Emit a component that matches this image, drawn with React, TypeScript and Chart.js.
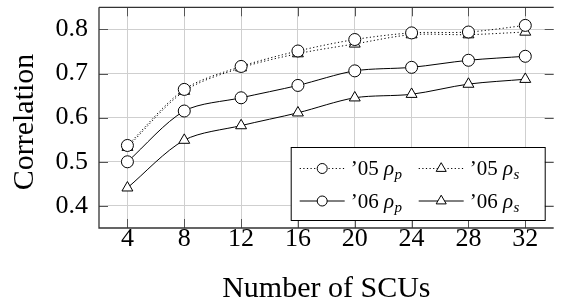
import React, { useEffect, useRef } from "react";
import { Chart, registerables } from "chart.js";

Chart.register(...registerables);

const scus = [4, 8, 12, 16, 20, 24, 28, 32];
const rhoP05 = [0.537, 0.664, 0.716, 0.751, 0.777, 0.792, 0.794, 0.809];
const rhoS05 = [0.533, 0.66, 0.713, 0.745, 0.767, 0.788, 0.788, 0.794];
const rhoP06 = [0.5, 0.615, 0.645, 0.673, 0.706, 0.714, 0.73, 0.739];
const rhoS06 = [0.441, 0.549, 0.582, 0.611, 0.645, 0.653, 0.676, 0.687];
const xTicks = [4, 8, 12, 16, 20, 24, 28, 32];
const yTicks = [0.4, 0.5, 0.6, 0.7, 0.8];
const seriesNames = ["’05", "’05", "’06", "’06"];
const seriesSubs = ["p", "s", "p", "s"];

const SERIF = "Liberation Serif";
const DOT = [1.2, 2.4];

Chart.defaults.font.family = SERIF;
Chart.defaults.font.size = 26;
Chart.defaults.color = "#000";

const pts = (ys: number[]) => scus.map((x, i) => ({ x, y: ys[i] }));

const zeroPad = (s: any) => {
  s.paddingTop = 0;
  s.paddingBottom = 0;
  s.paddingLeft = 0;
  s.paddingRight = 0;
};

const decorPlugin = {
  id: "decor",
  afterDatasetsDraw(chart: any) {
    const { ctx, chartArea } = chart;
    const { left, right, top, bottom } = chartArea;
    const xs = chart.scales.x;
    const ys = chart.scales.y;
    ctx.save();
    ctx.strokeStyle = "#555";
    ctx.lineWidth = 1;
    ctx.beginPath();
    xTicks.forEach((v) => {
      const px = Math.round(xs.getPixelForValue(v)) + 0.5;
      ctx.moveTo(px, top);
      ctx.lineTo(px, top + 9);
      ctx.moveTo(px, bottom);
      ctx.lineTo(px, bottom - 9);
    });
    yTicks.forEach((v) => {
      const py = Math.round(ys.getPixelForValue(v)) + 0.5;
      ctx.moveTo(left, py);
      ctx.lineTo(left + 9, py);
      ctx.moveTo(right, py);
      ctx.lineTo(right - 9, py);
    });
    ctx.stroke();
    ctx.strokeStyle = "#333";
    ctx.lineWidth = 1.3;
    ctx.beginPath();
    ctx.moveTo(left, top);
    ctx.lineTo(right, top);
    ctx.moveTo(left, top);
    ctx.lineTo(left, bottom);
    ctx.lineTo(right, bottom);
    ctx.stroke();

    const bx = right - 263;
    const by = bottom - 81;
    const bw = 254;
    const bh = 73;
    ctx.fillStyle = "#fff";
    ctx.fillRect(bx, by, bw, bh);
    ctx.strokeStyle = "#000";
    ctx.lineWidth = 1;
    ctx.strokeRect(bx + 0.5, by + 0.5, bw, bh);
    const rowsY = [by + 21.5, by + 54];
    const colX = [bx + 9, bx + 128];
    for (let i = 0; i < 4; i++) {
      const row = i < 2 ? 0 : 1;
      const col = i % 2;
      const cy = rowsY[row];
      const lx = colX[col];
      ctx.strokeStyle = "#000";
      ctx.lineWidth = 1;
      ctx.setLineDash(row === 0 ? DOT : []);
      ctx.beginPath();
      ctx.moveTo(lx, cy);
      ctx.lineTo(lx + 45, cy);
      ctx.stroke();
      ctx.setLineDash([]);
      const mx = lx + 22.5;
      ctx.fillStyle = "#fff";
      ctx.beginPath();
      if (col === 0) {
        ctx.arc(mx, cy, 5, 0, Math.PI * 2);
      } else {
        const r = 5.8;
        ctx.moveTo(mx, cy - r);
        ctx.lineTo(mx + r * Math.sin((2 * Math.PI) / 3), cy - r * Math.cos((2 * Math.PI) / 3));
        ctx.lineTo(mx + r * Math.sin((4 * Math.PI) / 3), cy - r * Math.cos((4 * Math.PI) / 3));
        ctx.closePath();
      }
      ctx.fill();
      ctx.stroke();
      const tx = lx + 51;
      const base = cy + 6.5;
      ctx.fillStyle = "#000";
      ctx.textAlign = "left";
      ctx.textBaseline = "alphabetic";
      ctx.font = `21px "${SERIF}"`;
      ctx.fillText(seriesNames[i], tx, base);
      const w1 = ctx.measureText(seriesNames[i] + " ").width;
      ctx.font = `italic 21px "${SERIF}"`;
      ctx.fillText("ρ", tx + w1, base);
      const w2 = ctx.measureText("ρ").width;
      ctx.font = `italic 15px "${SERIF}"`;
      ctx.fillText(seriesSubs[i], tx + w1 + w2 + 0.5, base + 4);
    }

    ctx.fillStyle = "#000";
    ctx.font = `30px "${SERIF}"`;
    ctx.textAlign = "center";
    ctx.textBaseline = "alphabetic";
    ctx.fillText("Number of SCUs", (left + right) / 2, 297);
    ctx.translate(33, 122);
    ctx.rotate(-Math.PI / 2);
    ctx.fillText("Correlation", 0, 0);
    ctx.restore();
  },
};

export default function App() {
  const ref = useRef<HTMLCanvasElement | null>(null);
  useEffect(() => {
    if (!ref.current) return;
    const common = {
      borderColor: "#000",
      borderWidth: 1,
      pointBackgroundColor: "#fff",
      pointBorderColor: "#000",
      pointBorderWidth: 1,
      tension: 0.3,
      fill: false,
    };
    const chart = new Chart(ref.current, {
      type: "line",
      data: {
        datasets: [
          { ...common, label: "’05 ρp", data: pts(rhoP05), borderDash: DOT, pointStyle: "circle", pointRadius: 6 },
          { ...common, label: "’05 ρs", data: pts(rhoS05), borderDash: DOT, pointStyle: "triangle", pointRadius: 6.3 },
          { ...common, label: "’06 ρp", data: pts(rhoP06), pointStyle: "circle", pointRadius: 6 },
          { ...common, label: "’06 ρs", data: pts(rhoS06), pointStyle: "triangle", pointRadius: 6.3 },
        ],
      },
      options: {
        animation: false,
        responsive: false,
        devicePixelRatio: 1,
        layout: { padding: { top: 7, left: 0, right: 0, bottom: 0 } },
        plugins: { legend: { display: false }, tooltip: { enabled: false } },
        scales: {
          x: {
            type: "linear",
            min: 2,
            max: 34,
            afterBuildTicks: (s: any) => {
              s.ticks = xTicks.map((v) => ({ value: v }));
            },
            afterFit: (s: any) => {
              s.height = 72;
              zeroPad(s);
            },
            grid: { color: "#cfcfcf", drawTicks: false, lineWidth: 1 },
            border: { display: false },
            ticks: { color: "#000", font: { family: SERIF, size: 26 }, padding: -4, maxRotation: 0, autoSkip: false },
          },
          y: {
            type: "linear",
            min: 0.35,
            max: 0.85,
            afterBuildTicks: (s: any) => {
              s.ticks = yTicks.map((v) => ({ value: v }));
            },
            afterFit: (s: any) => {
              s.width = 99;
              zeroPad(s);
            },
            grid: { color: "#cfcfcf", drawTicks: false, lineWidth: 1 },
            border: { display: false },
            ticks: {
              color: "#000",
              font: { family: SERIF, size: 26 },
              padding: 11,
              callback: (v: any) => Number(v).toFixed(1),
            },
          },
        },
      },
      plugins: [decorPlugin],
    } as any);
    return () => chart.destroy();
  }, []);
  return (
    <div style={{ position: "absolute", left: 0, top: 0, width: 561, height: 300, overflow: "hidden", background: "#fff" }}>
      <canvas ref={ref} width={561} height={300} style={{ width: 561, height: 300, display: "block" }} />
    </div>
  );
}
